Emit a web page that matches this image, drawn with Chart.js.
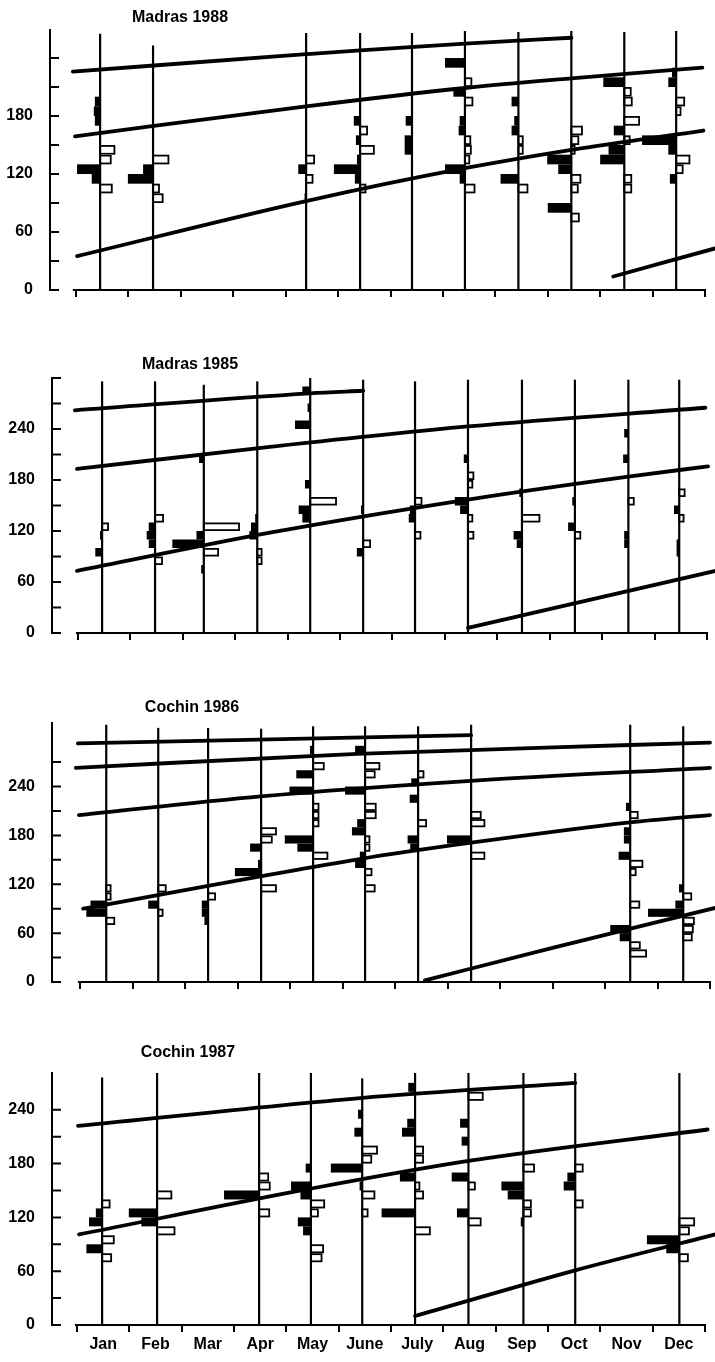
<!DOCTYPE html>
<html>
<head>
<meta charset="utf-8">
<title>Length-frequency samples and growth curves</title>
<script src="https://cdn.jsdelivr.net/npm/chart.js@4.4.1/dist/chart.umd.min.js"></script>
<style>
  body { margin: 0; background: #fff; }
  canvas { position: absolute; left: 0; }
</style>
</head>
<body>
<canvas id="p1" width="715" height="340" style="top:0px"></canvas>
<canvas id="p2" width="715" height="340" style="top:340px"></canvas>
<canvas id="p3" width="715" height="340" style="top:680px"></canvas>
<canvas id="p4" width="715" height="342" style="top:1020px"></canvas>
<script>
// length classes are 10 mm wide
var classWidth = 10;
var monthNames = ['Jan', 'Feb', 'Mar', 'Apr', 'May', 'June', 'July', 'Aug', 'Sep', 'Oct', 'Nov', 'Dec'];

// bars: [sample index, class lower bound, length in months]
// positive = peak (black, drawn left of the sample line), negative = trough (white, drawn right)

// ---- Madras 1988 ----
var madras88Samples = [0.46, 1.47, 4.39, 5.42, 6.41, 7.42, 8.44, 9.45, 10.46, 11.45];
var madras88Tops = [265, 253, 266, 266, 266, 268, 267, 268, 267, 268];
var madras88Curves = [
  [[-0.06, 226], [4.39, 244], [5.42, 248], [7.42, 255], [9.45, 261]],
  [[-0.02, 159], [4.39, 190], [7.42, 209], [9.45, 219], [11.95, 230]],
  [[0.02, 35], [4.39, 92], [7.42, 126], [9.45, 145], [11.97, 165]],
  [[10.25, 14], [12.19, 43]]
];
var madras88Bars = [
  [0, 190, 0.1], [0, 180, 0.12], [0, 170, 0.1], [0, 140, -0.29], [0, 130, -0.22], [0, 120, 0.44], [0, 110, 0.16], [0, 100, -0.24],
  [1, 130, -0.31], [1, 120, 0.19], [1, 110, 0.48], [1, 100, -0.13], [1, 90, -0.2],
  [2, 130, -0.17], [2, 120, 0.15], [2, 110, -0.14], [2, 90, 0.03],
  [3, 170, 0.12], [3, 160, -0.15], [3, 150, 0.08], [3, 140, -0.28], [3, 130, 0.06], [3, 120, 0.5], [3, 110, 0.1], [3, 100, -0.12],
  [4, 170, 0.12], [4, 150, 0.14], [4, 140, 0.14],
  [5, 230, 0.38], [5, 210, -0.14], [5, 200, 0.22], [5, 190, -0.16], [5, 170, 0.1], [5, 160, 0.12], [5, 150, -0.12], [5, 140, -0.13],
  [5, 130, -0.1], [5, 120, 0.38], [5, 110, 0.1], [5, 100, -0.2],
  [6, 190, 0.13], [6, 170, 0.08], [6, 160, 0.13], [6, 150, -0.1], [6, 140, -0.1], [6, 110, 0.34], [6, 100, -0.19],
  [7, 160, -0.22], [7, 150, -0.15], [7, 140, -0.08], [7, 130, 0.46], [7, 120, 0.25], [7, 110, -0.19], [7, 100, -0.14], [7, 80, 0.45], [7, 70, -0.16],
  [8, 210, 0.4], [8, 200, -0.14], [8, 190, -0.16], [8, 170, -0.3], [8, 160, 0.2], [8, 150, -0.12], [8, 140, 0.3], [8, 130, 0.46],
  [8, 110, -0.15], [8, 100, -0.15],
  [9, 220, 0.08], [9, 210, 0.15], [9, 190, -0.17], [9, 180, -0.1], [9, 150, 0.65], [9, 140, 0.15], [9, 130, -0.27], [9, 120, -0.14], [9, 110, 0.12]
];

// ---- Madras 1985 ----
var madras85Samples = [0.46, 1.47, 2.40, 3.42, 4.43, 5.44, 6.43, 7.44, 8.47, 9.48, 10.50, 11.47];
var madras85Tops = [296, 296, 292, 296, 300, 298, 296, 298, 298, 298, 298, 298];
var madras85Curves = [
  [[-0.06, 262], [4.43, 282], [5.44, 285]],
  [[-0.02, 193], [3.66, 219], [7.44, 243], [11.97, 265]],
  [[-0.02, 73], [3.66, 118], [7.44, 157], [10.5, 184], [12.02, 196]],
  [[7.44, 6], [12.16, 73]]
];
var madras85Bars = [
  [0, 120, -0.13], [0, 110, 0.04], [0, 90, 0.13],
  [1, 130, -0.17], [1, 120, 0.12], [1, 110, 0.16], [1, 100, 0.12], [1, 80, -0.15],
  [2, 200, 0.09], [2, 120, -0.69], [2, 110, 0.14], [2, 100, 0.6], [2, 90, -0.29], [2, 70, 0.05],
  [3, 130, 0.04], [3, 120, 0.12], [3, 110, 0.15], [3, 90, -0.1], [3, 80, -0.1],
  [4, 280, 0.15], [4, 260, 0.05], [4, 240, 0.29], [4, 170, 0.1], [4, 150, -0.51], [4, 140, 0.22], [4, 130, 0.15],
  [5, 140, 0.04], [5, 100, -0.15], [5, 90, 0.12],
  [6, 150, -0.14], [6, 140, 0.1], [6, 130, 0.12], [6, 110, -0.12],
  [7, 200, 0.08], [7, 180, -0.12], [7, 170, -0.1], [7, 150, 0.25], [7, 140, 0.15], [7, 130, -0.1], [7, 110, -0.12],
  [8, 160, 0.05], [8, 130, -0.35], [8, 110, 0.16], [8, 100, 0.1],
  [9, 150, 0.05], [9, 120, 0.13], [9, 110, -0.12],
  [10, 230, 0.08], [10, 200, 0.1], [10, 150, -0.12], [10, 110, 0.08], [10, 100, 0.08],
  [11, 160, -0.12], [11, 140, 0.1], [11, 130, -0.1], [11, 100, 0.05], [11, 90, 0.05]
];

// ---- Cochin 1986 ----
var cochin86Samples = [0.50, 1.49, 2.44, 3.45, 4.44, 5.43, 6.44, 7.45, 10.48, 11.49];
var cochin86Tops = [316, 312, 312, 311, 314, 314, 314, 316, 316, 314];
var cochin86Curves = [
  [[-0.04, 293], [7.45, 303]],
  [[-0.08, 263], [5.28, 280], [10.48, 291], [12.0, 294]],
  [[-0.02, 205], [3.45, 228], [7.45, 247], [12.0, 263]],
  [[0.06, 90], [5.33, 151], [7.45, 171], [10.48, 196], [12.0, 205]],
  [[6.57, 2], [9.0, 42], [12.1, 91]]
];
var cochin86Bars = [
  [0, 110, -0.1], [0, 100, -0.1], [0, 90, 0.3], [0, 80, 0.38], [0, 70, -0.17],
  [1, 110, -0.16], [1, 90, 0.19], [1, 80, -0.1],
  [2, 100, -0.15], [2, 90, 0.12], [2, 80, 0.12], [2, 70, 0.07],
  [3, 180, -0.3], [3, 170, -0.22], [3, 160, 0.21], [3, 140, 0.06], [3, 130, 0.5], [3, 110, -0.3],
  [4, 280, 0.06], [4, 260, -0.22], [4, 250, 0.32], [4, 230, 0.45], [4, 210, -0.12], [4, 200, -0.12], [4, 190, -0.12],
  [4, 170, 0.54], [4, 160, 0.3], [4, 150, -0.29],
  [5, 280, 0.19], [5, 260, -0.29], [5, 250, -0.2], [5, 230, 0.38], [5, 210, -0.22], [5, 200, -0.22], [5, 190, 0.15],
  [5, 180, 0.25], [5, 170, -0.1], [5, 160, -0.1], [5, 150, 0.1], [5, 140, 0.19], [5, 130, -0.14], [5, 110, -0.2],
  [6, 250, -0.12], [6, 240, 0.13], [6, 220, 0.16], [6, 190, -0.17], [6, 170, 0.2], [6, 160, 0.15],
  [7, 200, -0.2], [7, 190, -0.27], [7, 170, 0.46], [7, 150, -0.27],
  [8, 210, 0.08], [8, 200, -0.16], [8, 180, 0.12], [8, 170, 0.12], [8, 150, 0.22], [8, 140, -0.25], [8, 130, -0.12],
  [8, 90, -0.19], [8, 60, 0.38], [8, 50, 0.2], [8, 40, -0.2], [8, 30, -0.32],
  [9, 110, 0.08], [9, 100, -0.17], [9, 90, 0.15], [9, 80, 0.67], [9, 70, -0.22], [9, 60, -0.2], [9, 50, -0.18]
];

// ---- Cochin 1987 ----
var cochin87Samples = [0.48, 1.53, 3.48, 4.47, 5.45, 6.46, 7.48, 8.53, 9.52, 11.51];
var cochin87Tops = [276, 281, 281, 281, 275, 281, 281, 281, 281, 281];
var cochin87Curves = [
  [[0.02, 222], [5.41, 253], [9.52, 270]],
  [[0.04, 101], [4.46, 152], [7.48, 183], [12.05, 218]],
  [[6.46, 10], [9.52, 61], [12.2, 101]]
];
var cochin87Bars = [
  [0, 130, -0.16], [0, 120, 0.12], [0, 110, 0.25], [0, 90, -0.24], [0, 80, 0.3], [0, 70, -0.19],
  [1, 140, -0.29], [1, 120, 0.54], [1, 110, 0.3], [1, 100, -0.35],
  [2, 160, -0.19], [2, 150, -0.22], [2, 140, 0.67], [2, 120, -0.21],
  [3, 170, 0.1], [3, 150, 0.38], [3, 140, 0.2], [3, 130, -0.27], [3, 120, -0.15], [3, 110, 0.25], [3, 100, 0.15], [3, 80, -0.25], [3, 70, -0.22],
  [4, 230, 0.08], [4, 210, 0.15], [4, 190, -0.3], [4, 180, -0.19], [4, 170, 0.6], [4, 150, 0.05], [4, 140, -0.25], [4, 120, -0.12],
  [5, 260, 0.13], [5, 220, 0.15], [5, 210, 0.25], [5, 190, -0.17], [5, 180, -0.17], [5, 160, 0.29], [5, 150, -0.1], [5, 140, -0.17],
  [5, 120, 0.64], [5, 100, -0.3],
  [6, 250, -0.29], [6, 220, 0.16], [6, 200, 0.13], [6, 160, 0.32], [6, 150, -0.14], [6, 120, 0.22], [6, 110, -0.25],
  [7, 170, -0.22], [7, 150, 0.42], [7, 140, 0.3], [7, 130, -0.16], [7, 120, -0.16], [7, 110, 0.05],
  [8, 170, -0.16], [8, 160, 0.15], [8, 150, 0.22], [8, 130, -0.16],
  [9, 110, -0.3], [9, 100, -0.2], [9, 90, 0.62], [9, 80, 0.25], [9, 70, -0.18]
];

var panels = [
  { id: 'p1', title: 'Madras 1988', samples: madras88Samples, tops: madras88Tops, curves: madras88Curves, bars: madras88Bars,
    yMax: 269, labelMax: 180, axisX: 50, x0: 76, x12: 705, top: 30, zero: 290, titleX: 180, titleY: 18, axisStart: -0.06, months: false },
  { id: 'p2', title: 'Madras 1985', samples: madras85Samples, tops: madras85Tops, curves: madras85Curves, bars: madras85Bars,
    yMax: 300, labelMax: 240, axisX: 52, x0: 78, x12: 707, top: 38, zero: 293, titleX: 190, titleY: 25, axisStart: -0.04, months: false },
  { id: 'p3', title: 'Cochin 1986', samples: cochin86Samples, tops: cochin86Tops, curves: cochin86Curves, bars: cochin86Bars,
    yMax: 318, labelMax: 240, axisX: 52, x0: 80, x12: 710, top: 43, zero: 302, titleX: 192, titleY: 28, axisStart: -0.04, months: false },
  { id: 'p4', title: 'Cochin 1987', samples: cochin87Samples, tops: cochin87Tops, curves: cochin87Curves, bars: cochin87Bars,
    yMax: 281, labelMax: 240, axisX: 52, x0: 77, x12: 705, top: 53, zero: 305, titleX: 188, titleY: 33, axisStart: -0.04, months: true }
];

var font = 'Liberation Sans';

// histogram bars, title, x baseline and inward y ticks
function panelPlugin(p) {
  return {
    id: 'lf',
    beforeDatasetsDraw: function (chart) {
      var x = chart.scales.x, y = chart.scales.y, ctx = chart.ctx;
      ctx.save();
      ctx.lineWidth = 1.8;
      ctx.strokeStyle = '#000';
      p.bars.forEach(function (b) {
        var m = p.samples[b[0]];
        var xa = x.getPixelForValue(m), xb = x.getPixelForValue(m - b[2]);
        var yt = y.getPixelForValue(b[1] + classWidth), yb = y.getPixelForValue(b[1]);
        if (b[2] > 0) {
          ctx.fillStyle = '#000';
          ctx.fillRect(xb, yt, xa - xb, yb - yt);
        } else {
          ctx.fillStyle = '#fff';
          ctx.fillRect(xa, yt, xb - xa, yb - yt);
          ctx.strokeRect(xa, yt + 0.9, xb - xa - 0.9, yb - yt - 1.8);
        }
      });
      ctx.restore();
    },
    afterDraw: function (chart) {
      var x = chart.scales.x, y = chart.scales.y, ctx = chart.ctx;
      var left = chart.chartArea.left;
      ctx.save();
      ctx.strokeStyle = '#000';
      ctx.lineWidth = 2;
      ctx.beginPath();
      ctx.moveTo(x.getPixelForValue(p.axisStart), y.getPixelForValue(0));
      ctx.lineTo(x.getPixelForValue(12) + 1, y.getPixelForValue(0));
      y.ticks.forEach(function (t) {
        if (t.value % 30 === 0) {
          var py = y.getPixelForValue(t.value);
          ctx.moveTo(left, py);
          ctx.lineTo(left + 9, py);
        }
      });
      ctx.stroke();
      ctx.fillStyle = '#000';
      ctx.font = 'bold 16px "' + font + '"';
      ctx.textAlign = 'center';
      ctx.textBaseline = 'middle';
      ctx.fillText(p.title, p.titleX, p.titleY);
      ctx.restore();
    }
  };
}

panels.forEach(function (p) {
  var canvas = document.getElementById(p.id);
  var H = canvas.height;
  var ppm = (p.x12 - p.x0) / 12;
  var tickValues = [];
  for (var i = 0; i <= 24; i++) {
    if (p.months || i % 2 === 0) tickValues.push(i / 2);
  }

  var datasets = [];
  p.samples.forEach(function (m, i) {
    datasets.push({
      data: [{ x: m, y: 0 }, { x: m, y: p.tops[i] }],
      borderColor: '#000', borderWidth: 2.2, pointRadius: 0, showLine: true
    });
  });
  p.curves.forEach(function (c) {
    datasets.push({
      data: c.map(function (pt) { return { x: pt[0], y: pt[1] }; }),
      borderColor: '#000', borderWidth: 3.8, pointRadius: 0, showLine: true,
      cubicInterpolationMode: 'monotone', borderCapStyle: 'round'
    });
  });

  new Chart(canvas.getContext('2d'), {
    type: 'scatter',
    data: { datasets: datasets },
    options: {
      responsive: false,
      animation: false,
      events: [],
      layout: { padding: { top: p.top, left: 0, right: 0, bottom: 0 } },
      plugins: { legend: { display: false }, tooltip: { enabled: false } },
      scales: {
        x: {
          type: 'linear',
          min: (p.axisX - p.x0) / ppm,
          max: 12 + (715 - p.x12) / ppm,
          border: { display: false },
          grid: {
            drawOnChartArea: false,
            drawTicks: true,
            tickLength: 7,
            lineWidth: 2,
            color: function (c) {
              return c.tick && Number.isInteger(c.tick.value) ? '#000' : 'rgba(0,0,0,0)';
            }
          },
          afterBuildTicks: function (s) {
            s.ticks = tickValues.map(function (v) { return { value: v }; });
          },
          ticks: {
            display: p.months,
            autoSkip: false,
            maxRotation: 0,
            minRotation: 0,
            padding: 3,
            color: '#000',
            font: { family: font, size: 16, weight: 'bold' },
            callback: function (v) {
              return Number.isInteger(v) ? '' : monthNames[Math.floor(v)];
            }
          },
          afterFit: function (s) { s.height = H - p.zero; }
        },
        y: {
          type: 'linear',
          min: 0,
          max: p.yMax,
          border: { display: true, color: '#000', width: 2 },
          grid: { display: false },
          ticks: {
            stepSize: 30,
            padding: 9,
            color: '#000',
            font: { family: font, size: 16, weight: 'bold' },
            callback: function (v) {
              return (v % 60 === 0 && v <= p.labelMax) ? String(v) : '';
            }
          },
          afterFit: function (s) { s.width = p.axisX; }
        }
      }
    },
    plugins: [panelPlugin(p)]
  });
});
</script>
</body>
</html>
